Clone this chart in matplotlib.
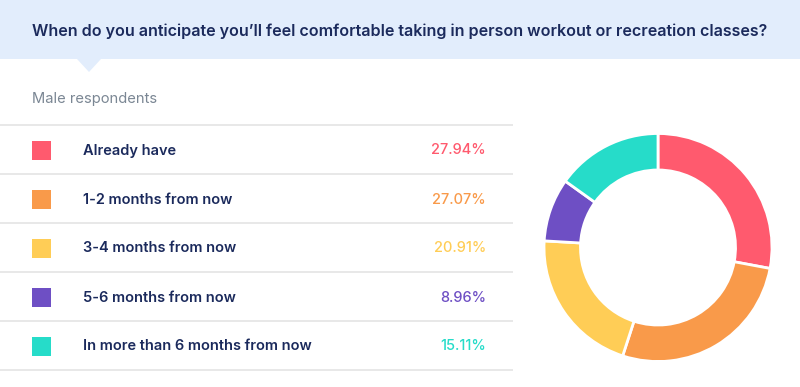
import matplotlib
matplotlib.use("Agg")
import matplotlib.pyplot as plt
from matplotlib.patches import Rectangle, Polygon

title = "When do you anticipate you\u2019ll feel comfortable taking in person workout or recreation classes?"
subtitle = "Male respondents"
categories = ["Already have", "1-2 months from now", "3-4 months from now",
              "5-6 months from now", "In more than 6 months from now"]
values = [27.94, 27.07, 20.91, 8.96, 15.11]
colors = ["#FF5A6E", "#F99A4A", "#FFCD56", "#6E4FC4", "#26DCC9"]

plt.rcParams['font.family'] = ['Inter', 'DejaVu Sans']

W, H = 800, 387
fig = plt.figure(figsize=(W / 100, H / 100), dpi=100)
fig.patch.set_facecolor("white")
ax = fig.add_axes([0, 0, 1, 1])
ax.set_xlim(0, W)
ax.set_ylim(H, 0)
ax.axis("off")

navy = "#1B2A5C"
# header band
ax.add_patch(Rectangle((0, 0), W, 59, facecolor="#E2EDFC", edgecolor="none"))
ax.add_patch(Polygon([(77, 59), (101, 59), (89, 72)], closed=True,
                     facecolor="#E2EDFC", edgecolor="none"))
ax.text(32, 31.5, title, fontsize=11.55, fontweight="semibold", color=navy,
        va="center", ha="left")
ax.text(32, 99, subtitle, fontsize=10.6, color="#7B8794", va="center", ha="left")

line_ys = [125, 174, 223, 272, 321, 370]
for y in line_ys:
    ax.plot([0, 513], [y, y], color="#E4E4E4", lw=1.2, solid_capstyle="butt")

for i, (cat, v, c) in enumerate(zip(categories, values, colors)):
    yc = (line_ys[i] + line_ys[i + 1]) / 2
    ax.add_patch(Rectangle((32, yc - 9), 18.5, 19, facecolor=c, edgecolor="none"))
    ax.text(83, yc + 1, cat, fontsize=10.5, fontweight="semibold", color=navy,
            va="center", ha="left")
    ax.text(486, yc + 1, f"{v:.2f}%", fontsize=10.5, fontweight="medium",
            color=c, va="center", ha="right")

# donut
cx, cy, r = 658, 247.5, 114
pax = fig.add_axes([(cx - r) / W, 1 - (cy + r) / H, 2 * r / W, 2 * r / H])
pax.pie(values, colors=colors, startangle=90, counterclock=False,
        wedgeprops=dict(width=0.32, edgecolor="white", linewidth=2))
pax.set_aspect("auto")
pax.set_xlim(-1, 1)
pax.set_ylim(-1, 1)
pax.axis("off")

fig.savefig("out.png", dpi=100, facecolor="white")
